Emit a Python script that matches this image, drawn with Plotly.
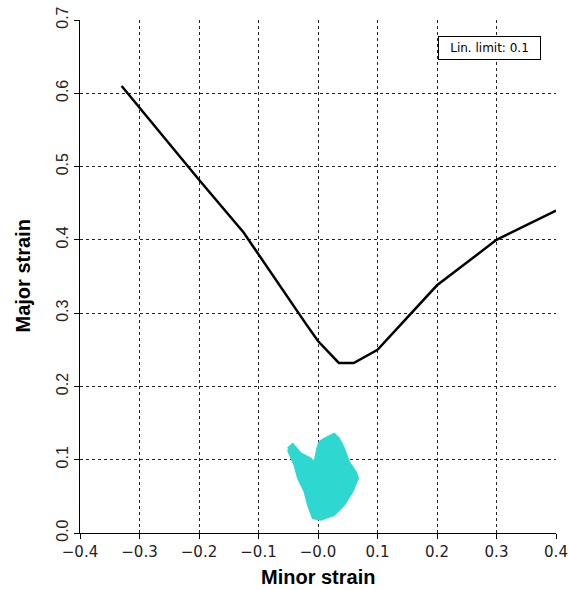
import plotly.graph_objects as go

# Forming limit curve
flc_minor = [-0.33, -0.2, -0.125, -0.06, -0.02, 0.0, 0.035, 0.06, 0.1, 0.2, 0.3, 0.4]
flc_major = [0.61, 0.482, 0.41, 0.332, 0.285, 0.262, 0.232, 0.232, 0.25, 0.338, 0.40, 0.44]

# Outline of the measured strain point cloud
cloud_minor = [-0.051, -0.0425, -0.0286, -0.0118, -0.0062, -0.0017, 0.002, 0.0106, 0.0274,
               0.0358, 0.0442, 0.0526, 0.0639, 0.0677, 0.0583, 0.0442, 0.0274, 0.005,
               -0.009, -0.0173, -0.023, -0.034, -0.040, -0.051]
cloud_major = [0.116, 0.122, 0.109, 0.102, 0.097, 0.1155, 0.1245, 0.129, 0.136,
               0.129, 0.1155, 0.097, 0.0836, 0.0746, 0.0563, 0.038, 0.0245, 0.0177,
               0.020, 0.038, 0.0563, 0.0746, 0.0927, 0.113]

x_ticks = [-0.4, -0.3, -0.2, -0.1, 0.0, 0.1, 0.2, 0.3, 0.4]
x_tick_labels = ["\u22120.4", "\u22120.3", "\u22120.2", "\u22120.1", "\u22120.0", "0.1", "0.2", "0.3", "0.4"]
y_ticks = [0.0, 0.1, 0.2, 0.3, 0.4, 0.5, 0.6, 0.7]
y_tick_labels = ["0.0", "0.1", "0.2", "0.3", "0.4", "0.5", "0.6", "0.7"]

cloud_color = "#2ED8D0"

fig = go.Figure()
fig.add_trace(go.Scatter(
    x=cloud_minor, y=cloud_major, mode="lines", fill="toself",
    fillcolor=cloud_color, line=dict(color=cloud_color, width=1.5),
    hoverinfo="skip", showlegend=False))
fig.add_trace(go.Scatter(
    x=flc_minor, y=flc_major, mode="lines",
    line=dict(color="black", width=2.5), showlegend=False))

fig.add_annotation(
    x=0.860, y=0.945, xref="paper", yref="paper", text="Lin. limit: 0.1",
    showarrow=False, xanchor="center", yanchor="middle",
    width=95, height=16, align="center",
    font=dict(family="DejaVu Sans, sans-serif", size=12, color="black"),
    bordercolor="black", borderwidth=1, borderpad=3, bgcolor="white")

title_font = dict(family="Liberation Sans, Arial, sans-serif", size=20, color="black")
fig.add_annotation(
    x=0.5, y=0, xref="paper", yref="paper", yshift=-44, text="<b>Minor strain</b>",
    showarrow=False, xanchor="center", yanchor="middle", font=title_font)
fig.add_annotation(
    x=0, y=0.5, xref="paper", yref="paper", xshift=-58, text="<b>Major strain</b>",
    textangle=-90, showarrow=False, xanchor="center", yanchor="middle", font=title_font)

grid = dict(showgrid=True, gridcolor="#222222", griddash="dot", gridwidth=1,
            zeroline=False, showline=True, linecolor="black", linewidth=1,
            ticks="outside", ticklen=5, tickcolor="black", tickwidth=1,
            automargin=False, ticklabeloverflow="allow")

fig.update_xaxes(
    range=[-0.4, 0.4], tickvals=x_ticks, ticktext=x_tick_labels, tickangle=0,
    tickfont=dict(family="DejaVu Sans, sans-serif", size=15, color="#222222"),
    **grid)
fig.update_yaxes(
    range=[0.0, 0.7], tickvals=y_ticks, ticktext=y_tick_labels, tickangle=-90,
    tickfont=dict(family="Liberation Sans Narrow, Liberation Sans, Arial, sans-serif", size=16, color="#222222"),
    **grid)

fig.update_layout(
    width=569, height=590,
    margin=dict(l=80, r=13, t=20, b=57),
    paper_bgcolor="white", plot_bgcolor="white",
)

fig.write_html("out.html", config={"displayModeBar": False},
               post_script="document.body.style.margin='0';")
